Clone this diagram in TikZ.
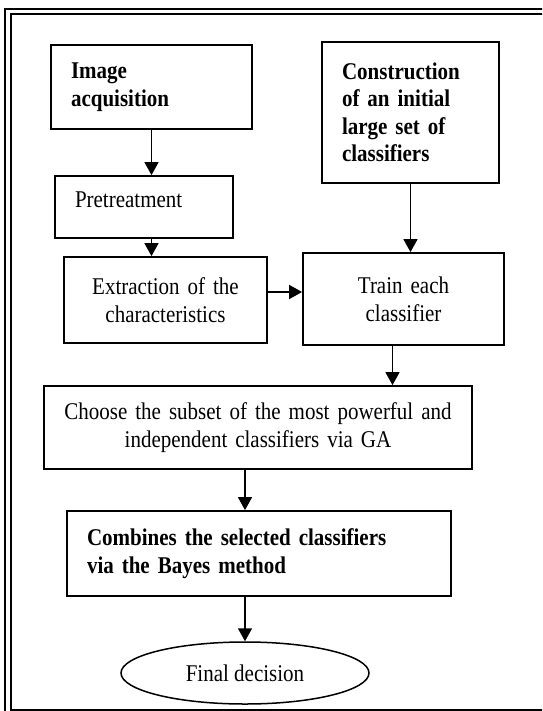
\documentclass[tikz,border=0pt]{standalone}
\usepackage{fontspec}
\setmainfont{Liberation Serif}[FakeStretch=0.875]
\usetikzlibrary{shapes.geometric,arrows.meta}

\begin{document}
\begin{tikzpicture}[x=1pt,y=-1pt,
    stepbox/.style={draw, line width=1.8pt, rectangle, inner xsep=20pt, inner ysep=0pt,
        font=\fontsize{24}{28}\selectfont},
    boldbox/.style={stepbox, align=left, font=\fontsize{24}{27.5}\selectfont\bfseries},
    endbox/.style={draw, line width=1.5pt, ellipse, inner sep=0pt,
        font=\fontsize{24}{28}\selectfont},
    flow/.style={line width=1.6pt, -{Triangle[length=13pt,width=14pt]}}]
            \clip (0,0) rectangle (542,711);
            % Frame
            \draw[line width=2pt] (4.5,9.5) rectangle (580,740);
            \draw[line width=2pt] (10.5,14.5) rectangle (570,709.5);

            % Left column
            \node[boldbox, text width=161pt, minimum height=84pt] (acq) at (151.5,87) {Image\\acquisition};
            \node[stepbox, align=left, text width=138pt, minimum height=62pt, text depth=14pt] (pre) at (144,207) {Pretreatment};
            \node[stepbox, align=center, text width=163pt, minimum height=86pt] (ext) at (165.5,300) {Extraction of the\\characteristics};

            % Right column
            \node[boldbox, text width=137pt, minimum height=141pt] (cons) at (410.5,112.5) {Construction\\of an initial\\large set of\\classifiers};
            \node[stepbox, align=center, text width=161pt, minimum height=92pt] (train) at (403.5,299) {Train each\\classifier};

            % Bottom
            \node[stepbox, align=center, inner xsep=8pt, text width=412pt, minimum height=83pt] (choose) at (258,427.5) {Choose the subset of the most powerful and\\independent classifiers via GA};
            \node[boldbox, text width=344pt, minimum height=85pt] (comb) at (259,553.5) {Combines the selected classifiers\\via the Bayes method};
            \node[endbox, minimum width=248pt, minimum height=62pt] (final) at (245,673) {Final decision};

            % Arrows
            \draw[flow] (acq.south) -- (acq.south |- pre.north);
            \draw[flow] (acq |- pre.south) -- (acq |- ext.north);
            \draw[flow] ([yshift=8pt]ext.east) -- ([yshift=8pt]ext.east -| train.west);
            \draw[flow] (cons.south) -- (cons.south |- train.north);
            \draw[flow] ([xshift=-11pt]train.south) -- ([xshift=-11pt]train.south |- choose.north);
            \draw[flow] (final |- choose.south) -- (final |- comb.north);
            \draw[flow] (final |- comb.south) -- (final.north);

        \end{tikzpicture}
\end{document}
